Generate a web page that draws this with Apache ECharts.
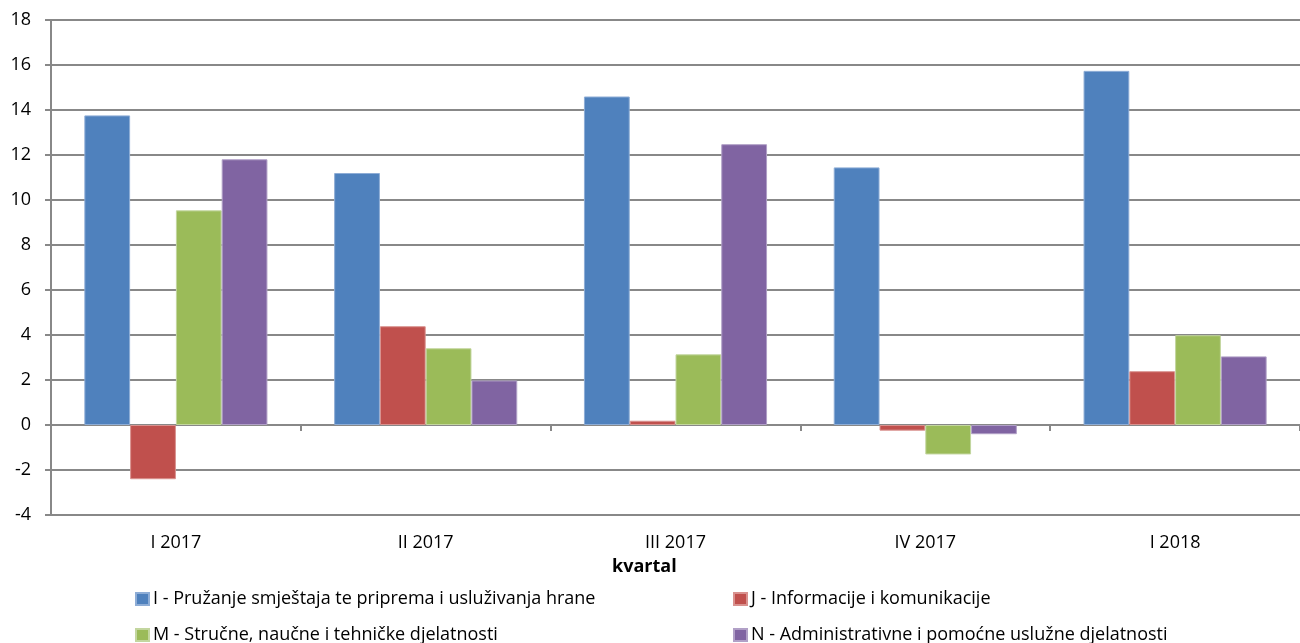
<!DOCTYPE html>
<html><head><meta charset="utf-8">
<script src="https://cdn.jsdelivr.net/npm/echarts@6/dist/echarts.min.js"></script>
<style>html,body{margin:0;padding:0;background:#fff}#c{width:1300px;height:643px}</style>
</head><body><div id="c"></div>
<script>
const categories = ['I 2017', 'II 2017', 'III 2017', 'IV 2017', 'I 2018'];
const seriesNames = [
  'I - Pružanje smještaja te priprema i usluživanja hrane',
  'J - Informacije i komunikacije',
  'M - Stručne, naučne i tehničke djelatnosti',
  'N - Administrativne i pomoćne uslužne djelatnosti'
];
const valuesI = [13.76, 11.2, 14.6, 11.45, 15.74];
const valuesJ = [-2.41, 4.39, 0.19, -0.25, 2.39];
const valuesM = [9.54, 3.41, 3.14, -1.31, 3.99];
const valuesN = [11.81, 1.98, 12.48, -0.41, 3.05];
const yTicks = { min: -4, max: 18, interval: 2 };
const xAxisTitle = 'kvartal';

const colors = ['#4F81BD', '#C0504D', '#9BBB59', '#8064A2'];
const borders = ['#8EADD6', '#D9928F', '#C3D69F', '#B1A0C7'];
const font = 'Open Sans';
const fs = 18;
const allValues = [valuesI, valuesJ, valuesM, valuesN];

const chart = echarts.init(document.getElementById('c'));
const legendPos = [[135, 590], [733, 590], [135, 626], [733, 626]];
chart.setOption({
  animation: false,
  textStyle: { fontFamily: font },
  grid: { left: 51, top: 20, right: -7, bottom: 128, containLabel: false },
  xAxis: [{
    type: 'category', data: categories,
    axisLine: { show: false, onZero: false },
    axisTick: { show: false },
    axisLabel: { color: '#000', fontSize: fs, fontFamily: font, margin: 19 }
  }, {
    type: 'category', data: categories, position: 'bottom',
    axisLine: { show: true, onZero: true, lineStyle: { color: '#888', width: 2 } },
    axisTick: { show: true, length: 6, lineStyle: { color: '#888', width: 2 } },
    axisLabel: { show: false }
  }],
  yAxis: {
    type: 'value', min: yTicks.min, max: yTicks.max, interval: yTicks.interval,
    axisLine: { show: true, lineStyle: { color: '#888', width: 2 } },
    axisTick: { show: true, length: 6, lineStyle: { color: '#888', width: 2 } },
    splitLine: { lineStyle: { color: '#888', width: 2 } },
    axisLabel: { color: '#000', fontSize: fs, fontFamily: font, margin: 20 }
  },
  legend: legendPos.map((p, i) => ({
    data: [seriesNames[i]], left: p[0], top: p[1], padding: 0,
    itemWidth: 13, itemHeight: 12, itemGap: 0, icon: 'rect',
    textStyle: { color: '#000', fontSize: fs, fontFamily: font, padding: [0, 0, 0, -1] }
  })),
  graphic: [{
    type: 'text', left: 612, top: 558,
    style: { text: xAxisTitle, font: 'bold 18px "' + font + '"', fill: '#000' }
  }],
  series: allValues.map((v, i) => ({
    name: seriesNames[i], type: 'bar', data: v, xAxisIndex: 0,
    barGap: '0%', barCategoryGap: '26.7%',
    itemStyle: { color: colors[i], borderColor: borders[i], borderWidth: 1 }
  }))
});
</script></body></html>
